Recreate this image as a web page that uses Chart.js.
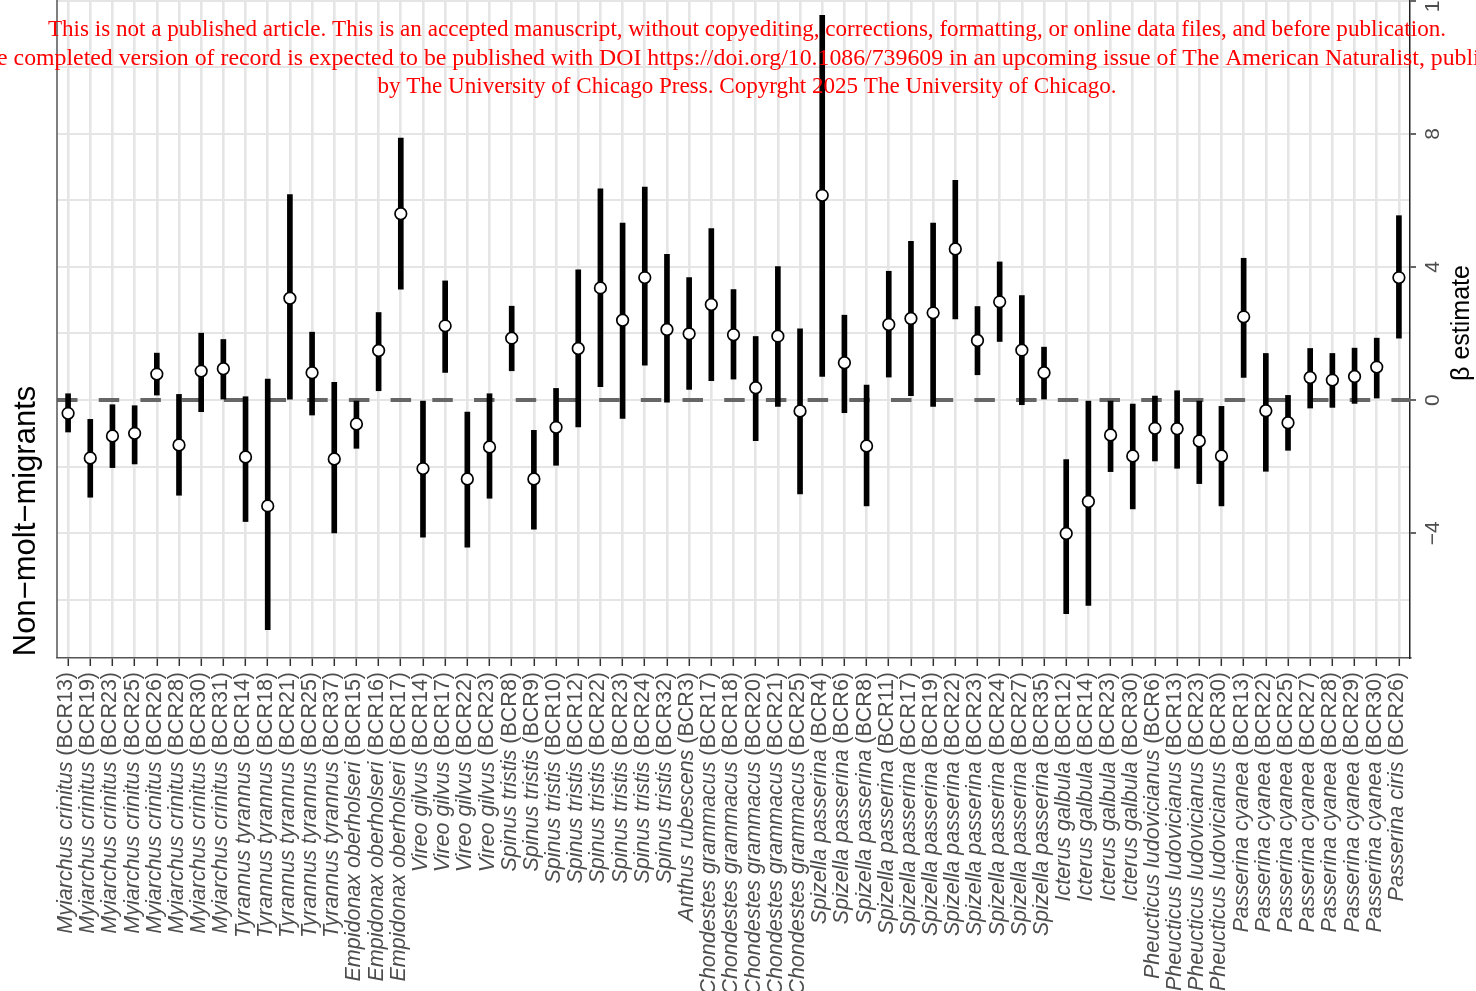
<!DOCTYPE html>
<html>
<head>
<meta charset="utf-8">
<style>
  html, body { margin: 0; padding: 0; background: #ffffff; }
  #wrap { width: 1476px; height: 991px; position: relative; overflow: hidden; }
  canvas { display: block; }
</style>
<script src="https://cdn.jsdelivr.net/npm/chart.js@4.4.1/dist/chart.umd.min.js"></script>
</head>
<body>
<div id="wrap"><canvas id="chart" width="1476" height="991"></canvas></div>
<script>
// Species and Bird Conservation Region for each estimate
const species = [
  'Myiarchus crinitus', 'Myiarchus crinitus', 'Myiarchus crinitus', 'Myiarchus crinitus',
  'Myiarchus crinitus', 'Myiarchus crinitus', 'Myiarchus crinitus', 'Myiarchus crinitus',
  'Tyrannus tyrannus', 'Tyrannus tyrannus', 'Tyrannus tyrannus', 'Tyrannus tyrannus', 'Tyrannus tyrannus',
  'Empidonax oberholseri', 'Empidonax oberholseri', 'Empidonax oberholseri',
  'Vireo gilvus', 'Vireo gilvus', 'Vireo gilvus', 'Vireo gilvus',
  'Spinus tristis', 'Spinus tristis', 'Spinus tristis', 'Spinus tristis',
  'Spinus tristis', 'Spinus tristis', 'Spinus tristis', 'Spinus tristis',
  'Anthus rubescens',
  'Chondestes grammacus', 'Chondestes grammacus', 'Chondestes grammacus',
  'Chondestes grammacus', 'Chondestes grammacus',
  'Spizella passerina', 'Spizella passerina', 'Spizella passerina', 'Spizella passerina',
  'Spizella passerina', 'Spizella passerina', 'Spizella passerina', 'Spizella passerina',
  'Spizella passerina', 'Spizella passerina', 'Spizella passerina',
  'Icterus galbula', 'Icterus galbula', 'Icterus galbula', 'Icterus galbula',
  'Pheucticus ludovicianus', 'Pheucticus ludovicianus', 'Pheucticus ludovicianus', 'Pheucticus ludovicianus',
  'Passerina cyanea', 'Passerina cyanea', 'Passerina cyanea', 'Passerina cyanea',
  'Passerina cyanea', 'Passerina cyanea', 'Passerina cyanea',
  'Passerina ciris'
];
const regions = [
  'BCR13', 'BCR19', 'BCR23', 'BCR25', 'BCR26', 'BCR28', 'BCR30', 'BCR31',
  'BCR14', 'BCR18', 'BCR21', 'BCR25', 'BCR37',
  'BCR15', 'BCR16', 'BCR17',
  'BCR14', 'BCR17', 'BCR22', 'BCR23',
  'BCR8', 'BCR9', 'BCR10', 'BCR12', 'BCR22', 'BCR23', 'BCR24', 'BCR32',
  'BCR3',
  'BCR17', 'BCR18', 'BCR20', 'BCR21', 'BCR25',
  'BCR4', 'BCR6', 'BCR8', 'BCR11', 'BCR17', 'BCR19', 'BCR22', 'BCR23', 'BCR24', 'BCR27', 'BCR35',
  'BCR12', 'BCR14', 'BCR23', 'BCR30',
  'BCR6', 'BCR13', 'BCR23', 'BCR30',
  'BCR13', 'BCR22', 'BCR25', 'BCR27', 'BCR28', 'BCR29', 'BCR30',
  'BCR26'
];

// Beta estimates with lower / upper interval bounds
const estimate = [
  -0.40, -1.74, -1.08, -1.00, 0.78, -1.35, 0.87, 0.94,
  -1.71, -3.18, 3.06, 0.82, -1.77,
  -0.72, 1.49, 5.60,
  -2.06, 2.23, -2.37, -1.41,
  1.86, -2.37, -0.82, 1.55, 3.37, 2.40, 3.68, 2.12,
  1.99,
  2.87, 1.96, 0.37, 1.92, -0.33,
  6.15, 1.12, -1.38, 2.27, 2.45, 2.62, 4.54, 1.79, 2.95, 1.50, 0.82,
  -4.01, -3.05, -1.05, -1.68,
  -0.85, -0.86, -1.23, -1.68,
  2.50, -0.32, -0.68, 0.68, 0.60, 0.71, 0.99,
  3.68
];
const lower = [
  -0.96, -2.92, -2.03, -1.92, 0.15, -2.86, -0.35, 0.00,
  -3.65, -6.90, 0.00, -0.45, -3.99,
  -1.45, 0.28, 3.33,
  -4.12, 0.83, -4.42, -2.95,
  0.88, -3.88, -1.96, -0.81, 0.40, -0.55, 1.05, -0.06,
  0.32,
  0.58, 0.63, -1.22, -0.19, -2.82,
  0.71, -0.38, -3.18, 0.69, 0.13, -0.19, 2.44, 0.76, 1.76, -0.14, 0.00,
  -6.42, -6.17, -2.15, -3.27,
  -1.83, -2.05, -2.51, -3.18,
  0.68, -2.14, -1.51, -0.24, -0.22, -0.10, 0.06,
  1.86
];
const upper = [
  0.19, -0.58, -0.14, -0.17, 1.41, 0.17, 2.01, 1.82,
  0.10, 0.63, 6.17, 2.04, 0.53,
  0.00, 2.63, 7.87,
  0.00, 3.58, -0.36, 0.19,
  2.82, -0.91, 0.35, 3.91, 6.35, 5.32, 6.40, 4.38,
  3.68,
  5.15, 3.32, 1.91, 4.01, 2.14,
  11.56, 2.55, 0.45, 3.87, 4.77, 5.32, 6.60, 2.81, 4.15, 3.14, 1.59,
  -1.79, 0.00, 0.00, -0.12,
  0.12, 0.28, 0.00, -0.19,
  4.26, 1.40, 0.14, 1.55, 1.40, 1.56, 1.86,
  5.54
];

const yLabelValues = [-4, 0, 4, 8, 12];
const panelTitle = 'Non\u2212molt\u2212migrants';
const valueTitle = '\u03B2 estimate';
const noticeLines = [
  'This is not a published article. This is an accepted manuscript, without copyediting, corrections, formatting, or online data files, and before publication.',
  'The completed version of record is expected to be published with DOI https://doi.org/10.1086/739609 in an upcoming issue of The American Naturalist, published',
  'by The University of Chicago Press. Copyrght 2025 The University of Chicago.'
];

const categories = species.map((s, i) => s + ' (' + regions[i] + ')');
const intervals = lower.map((lo, i) => [lo, upper[i]]);

const SANS = '"Liberation Sans", Arial, Helvetica, sans-serif';
const SERIF = '"Liberation Serif", "Times New Roman", serif';

function fmtTick(v) {
  return v < 0 ? '\u2212' + Math.abs(v) : String(v);
}

function rotatedText(ctx, text, x, y, font, color, align) {
  ctx.save();
  ctx.translate(x, y);
  ctx.rotate(-Math.PI / 2);
  ctx.font = font;
  ctx.fillStyle = color;
  ctx.textAlign = align || 'center';
  ctx.textBaseline = 'middle';
  ctx.fillText(text, 0, 0);
  ctx.restore();
}

const decorations = {
  id: 'decorations',
  beforeDatasetsDraw(chart) {
    const { ctx, chartArea: a, scales: { y } } = chart;
    // dashed reference line at zero
    const y0 = y.getPixelForValue(0);
    ctx.save();
    ctx.strokeStyle = '#666666';
    ctx.lineWidth = 4;
    ctx.setLineDash([20.5, 21.2]);
    ctx.beginPath();
    ctx.moveTo(a.left, y0);
    ctx.lineTo(a.right, y0);
    ctx.stroke();
    ctx.restore();
  },
  afterDraw(chart) {
    const { ctx, chartArea: a, scales: { x, y } } = chart;

    // left panel edge
    ctx.save();
    ctx.strokeStyle = '#555555';
    ctx.lineWidth = 1.5;
    ctx.beginPath();
    ctx.moveTo(a.left, a.top);
    ctx.lineTo(a.left, a.bottom);
    ctx.stroke();
    ctx.restore();

    // category labels: italic species name followed by the region code
    const labelTop = a.bottom + 14;
    for (let i = 0; i < categories.length; i++) {
      const px = x.getPixelForTick(i) - 2;
      ctx.save();
      ctx.translate(px, labelTop);
      ctx.rotate(-Math.PI / 2);
      ctx.fillStyle = '#4d4d4d';
      ctx.textBaseline = 'middle';
      ctx.textAlign = 'right';
      const tail = '(' + regions[i] + ')';
      ctx.font = '21.5px ' + SANS;
      ctx.fillText(tail, 0, 0);
      const tw = ctx.measureText(tail).width;
      ctx.font = 'italic 21.5px ' + SANS;
      ctx.fillText(species[i] + ' ', -tw, 0);
      ctx.restore();
    }

    // value axis labels
    yLabelValues.forEach(v => {
      rotatedText(ctx, fmtTick(v), a.right + 23, y.getPixelForValue(v), '21px ' + SANS, '#4d4d4d');
    });

    // axis and panel titles
    rotatedText(ctx, valueTitle, 1462, (a.top + a.bottom) / 2 - 6, '25px ' + SANS, '#000000');
    rotatedText(ctx, panelTitle, 26, 521, '31px ' + SANS, '#000000');

    // notice text across the top
    ctx.save();
    ctx.fillStyle = '#ff0000';
    ctx.textAlign = 'center';
    ctx.textBaseline = 'middle';
    const lineY = [30, 58.5, 87];
    const lineSize = [23.1, 23.8, 23.1];
    noticeLines.forEach((t, i) => {
      ctx.font = lineSize[i] + 'px ' + SERIF;
      ctx.fillText(t, 747, lineY[i]);
    });
    ctx.restore();
  }
};

new Chart(document.getElementById('chart'), {
  type: 'bar',
  data: {
    labels: categories,
    datasets: [
      {
        type: 'line',
        label: 'estimate',
        data: estimate,
        showLine: false,
        pointRadius: 5.8,
        pointHoverRadius: 5.8,
        pointBackgroundColor: '#ffffff',
        pointBorderColor: '#000000',
        pointBorderWidth: 1.7,
        clip: false,
        order: 0
      },
      {
        type: 'bar',
        label: 'interval',
        data: intervals,
        backgroundColor: '#000000',
        borderWidth: 0,
        borderSkipped: false,
        barThickness: 5,
        order: 1
      }
    ]
  },
  options: {
    responsive: false,
    devicePixelRatio: 1,
    animation: false,
    layout: { autoPadding: false, padding: { left: 57, top: 0, right: 0, bottom: 0 } },
    plugins: {
      legend: { display: false },
      tooltip: { enabled: false }
    },
    scales: {
      x: {
        type: 'category',
        offset: true,
        grid: {
          offset: false,
          color: '#e5e5e5',
          lineWidth: 2.6,
          drawTicks: true,
          tickLength: 8,
          tickColor: '#333333',
          tickWidth: 1.5
        },
        border: { display: true, color: '#555555', width: 1.5 },
        ticks: { display: false, autoSkip: false },
        afterFit(scale) { scale.height = 333; }
      },
      y: {
        type: 'linear',
        position: 'right',
        min: -7.75,
        max: 12.02,
        grid: {
          color: '#e5e5e5',
          lineWidth: 2,
          drawTicks: true,
          tickLength: 6,
          tickWidth: 1.5,
          tickColor: c => (c.tick && yLabelValues.includes(c.tick.value)) ? '#333333' : 'rgba(0,0,0,0)'
        },
        border: { display: true, color: '#222222', width: 1.5 },
        ticks: { display: false, stepSize: 2, includeBounds: false },
        afterFit(scale) { scale.width = 66; }
      }
    }
  },
  plugins: [decorations]
});
</script>
</body>
</html>
